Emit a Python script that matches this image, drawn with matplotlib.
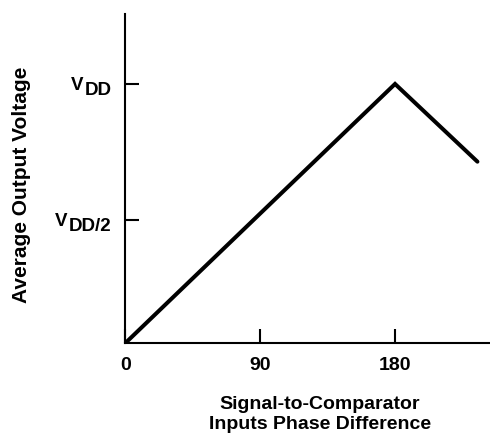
import matplotlib
matplotlib.use("Agg")
import matplotlib.pyplot as plt

# phase difference (degrees) and average output voltage (fraction of VDD)
phase = [0, 180, 235]
voltage = [0.0, 1.0, 0.70]

x_ticks = [0, 90, 180]
x_tick_labels = ["0", "90", "180"]
y_ticks = [0.475, 1.0]
y_tick_subs = ["DD/2", "DD"]

plt.rcParams["font.family"] = ["Liberation Sans", "DejaVu Sans"]

fig = plt.figure(figsize=(4.9, 4.39), dpi=100)
ax = fig.add_axes([0.256, 0.2164, 0.744, 0.7494])

ax.plot(phase, voltage, color="black", linewidth=2.9,
        solid_joinstyle="miter", solid_capstyle="round")

ax.set_xlim(0, 243.4)
ax.set_ylim(0, 1.27)

# only left and bottom axis lines
ax.spines["top"].set_visible(False)
ax.spines["right"].set_visible(False)
for s in ("left", "bottom"):
    ax.spines[s].set_linewidth(1.5)

ax.set_xticks(x_ticks)
ax.set_xticklabels(x_tick_labels, fontsize=14, fontweight="bold")
ax.set_yticks(y_ticks)
ax.set_yticklabels([])
ax.tick_params(axis="both", direction="in", length=10, width=1.5)
ax.tick_params(axis="x", pad=9.5)

# "V" followed by a lowered "DD" part, same size
for tick, sub in zip(y_ticks, y_tick_subs):
    s = ax.annotate(sub, xy=(0, tick), xycoords=ax.get_yaxis_transform(),
                    xytext=(-13.8, -10), textcoords="offset pixels",
                    ha="right", va="baseline", fontsize=13.5, fontweight="bold")
    ax.annotate("V", xy=(0, 0), xycoords=s, xytext=(-1.5, 5),
                textcoords="offset pixels", ha="right", va="bottom",
                fontsize=13.5, fontweight="bold")

ax.set_ylabel("Average Output Voltage", fontsize=15, fontweight="bold")
ax.yaxis.label.set_verticalalignment("center")
ax.yaxis.set_label_coords(-0.284, 0.485)

ax.set_xlabel("Signal-to-Comparator\nInputs Phase Difference", fontsize=14,
              fontweight="bold", linespacing=1.25)
ax.xaxis.label.set_verticalalignment("top")
ax.xaxis.set_label_coords(0.5336, -0.158)

fig.savefig("out.png", dpi=100)
